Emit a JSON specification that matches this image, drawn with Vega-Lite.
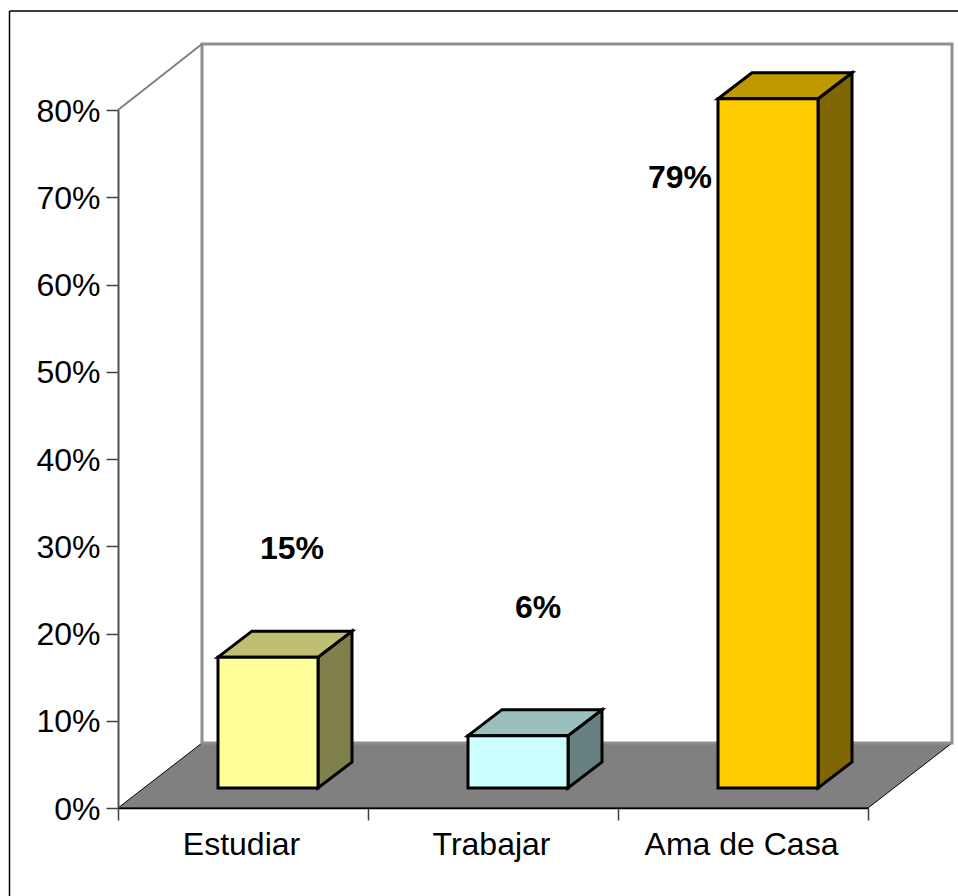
{"$schema":"https://vega.github.io/schema/vega-lite/v6.json","width":750,"height":698,"autosize":"none","padding":{"left":118,"top":110,"right":90,"bottom":88},"background":"white","config":{"view":{"stroke":null},"font":"Liberation Sans"},
"data":{"values":[{"categoria":"Estudiar","valor":0.15},{"categoria":"Trabajar","valor":0.06},{"categoria":"Ama de Casa","valor":0.79}]},
"transform":[{"calculate":"indexof(['Estudiar','Trabajar','Ama de Casa'],datum.categoria)","as":"idx"},{"calculate":"datum.idx+0.4","as":"izq"},{"calculate":"datum.idx+0.8","as":"der"},{"calculate":"datum.idx+0.6","as":"centro"},{"calculate":"datum.valor+0.0229","as":"tope"}],
"resolve":{"scale":{"color":"independent"}},
"encoding":{"x":{"type":"quantitative","scale":{"domain":[0,3],"nice":false,"zero":false},"axis":{"values":[0,0.5,1,1.5,2,2.5,3],"title":null,"grid":false,"domainColor":"black","domainWidth":1.5,"tickColor":"#404040","tickSize":12,"tickWidth":1.5,"tickOpacity":{"condition":{"test":"datum.value%1==0","value":1},"value":0},"labelExpr":"datum.value==0.5?'Estudiar':datum.value==1.5?'Trabajar':datum.value==2.5?'Ama de Casa':''","labelFontSize":32,"labelColor":"black","labelPadding":9,"labelOffset":-2,"labelAngle":0,"labelLimit":400,"labelOverlap":false,"labelFlush":false,"zindex":1}},"y":{"type":"quantitative","scale":{"domain":[0,0.8],"nice":false,"zero":false},"axis":{"values":[0,0.1,0.2,0.3,0.4,0.5,0.6,0.7,0.8],"format":".0%","title":null,"grid":false,"domainColor":"#505050","domainWidth":2,"tickColor":"#404040","tickSize":12,"tickWidth":1.5,"labelFontSize":32,"labelColor":"black","labelPadding":6,"labelOffset":1,"zindex":1}}},
"layer":[
{"data":{"values":[{}]},"transform":[],"mark":{"type":"rule","color":"black","strokeWidth":1.5},"encoding":{"x":{"datum":-0.434},"y":{"datum":0.9135},"y2":{"datum":-0.11}}},
{"data":{"values":[{}]},"transform":[],"mark":{"type":"rule","color":"black","strokeWidth":1.5},"encoding":{"x":{"datum":-0.434},"x2":{"datum":3.4},"y":{"datum":0.9135}}},
{"data":{"values":[{"d":0},{"d":1}]},"transform":[{"calculate":"datum.d*0.336","as":"xa"},{"calculate":"3+datum.d*0.336","as":"xb"},{"calculate":"datum.d*0.0745","as":"yf"}],"mark":{"type":"area","orient":"horizontal","fill":"#808080","stroke":"black","strokeWidth":1},"encoding":{"x":{"field":"xa"},"x2":{"field":"xb"},"y":{"field":"yf"}}},
{"data":{"values":[{}]},"transform":[],"mark":{"type":"rect","fill":"white","stroke":"#8f8f8f","strokeWidth":3},"encoding":{"x":{"datum":0.336},"x2":{"datum":3.336},"y":{"datum":0.8757},"y2":{"datum":0.0745}}},
{"data":{"values":[{}]},"transform":[],"mark":{"type":"rule","color":"#808080","strokeWidth":2},"encoding":{"x":{"datum":0},"x2":{"datum":0.336},"y":{"datum":0.8},"y2":{"datum":0.8757}}},
{"transform":[{"calculate":"[0,1]","as":"d"},{"flatten":["d"]},{"calculate":"datum.der+datum.d*0.136","as":"xl"},{"calculate":"datum.tope+datum.d*0.0298","as":"ya"},{"calculate":"0.0229+datum.d*0.0298","as":"yb"}],"mark":{"type":"area","orient":"vertical","stroke":"black","strokeWidth":3,"strokeJoin":"miter","fillOpacity":1},"encoding":{"x":{"field":"xl"},"y":{"field":"ya"},"y2":{"field":"yb"},"color":{"field":"categoria","type":"nominal","legend":null,"scale":{"domain":["Estudiar","Trabajar","Ama de Casa"],"range":["#80804D","#668080","#806600"]}}}},
{"transform":[{"calculate":"[0,1]","as":"d"},{"flatten":["d"]},{"calculate":"datum.izq+datum.d*0.136","as":"xa"},{"calculate":"datum.der+datum.d*0.136","as":"xb"},{"calculate":"datum.tope+datum.d*0.0298","as":"ya"}],"mark":{"type":"area","orient":"horizontal","stroke":"black","strokeWidth":3,"strokeJoin":"miter","fillOpacity":1},"encoding":{"x":{"field":"xa"},"x2":{"field":"xb"},"y":{"field":"ya"},"color":{"field":"categoria","type":"nominal","legend":null,"scale":{"domain":["Estudiar","Trabajar","Ama de Casa"],"range":["#BFBF73","#99BFBF","#BF9900"]}}}},
{"transform":[{"calculate":"0.0229","as":"base"}],"mark":{"type":"rect","stroke":"black","strokeWidth":3,"fillOpacity":1},"encoding":{"x":{"field":"izq"},"x2":{"field":"der"},"y":{"field":"tope"},"y2":{"field":"base"},"color":{"field":"categoria","type":"nominal","legend":null,"scale":{"domain":["Estudiar","Trabajar","Ama de Casa"],"range":["#FFFF99","#CCFFFF","#FFCC00"]}}}},
{"transform":[{"filter":"datum.categoria=='Estudiar'"}],"mark":{"type":"text","fontSize":32,"fontWeight":"bold","color":"black","align":"center","baseline":"middle","dx":24,"dy":-108},"encoding":{"x":{"field":"centro"},"y":{"field":"tope"},"text":{"field":"valor","type":"quantitative","format":".0%"}}},
{"transform":[{"filter":"datum.categoria=='Trabajar'"}],"mark":{"type":"text","fontSize":32,"fontWeight":"bold","color":"black","align":"center","baseline":"middle","dx":20,"dy":-128},"encoding":{"x":{"field":"centro"},"y":{"field":"tope"},"text":{"field":"valor","type":"quantitative","format":".0%"}}},
{"transform":[{"filter":"datum.categoria=='Ama de Casa'"}],"mark":{"type":"text","fontSize":32,"fontWeight":"bold","color":"black","align":"center","baseline":"middle","dx":-88,"dy":79},"encoding":{"x":{"field":"centro"},"y":{"field":"tope"},"text":{"field":"valor","type":"quantitative","format":".0%"}}}
]}
